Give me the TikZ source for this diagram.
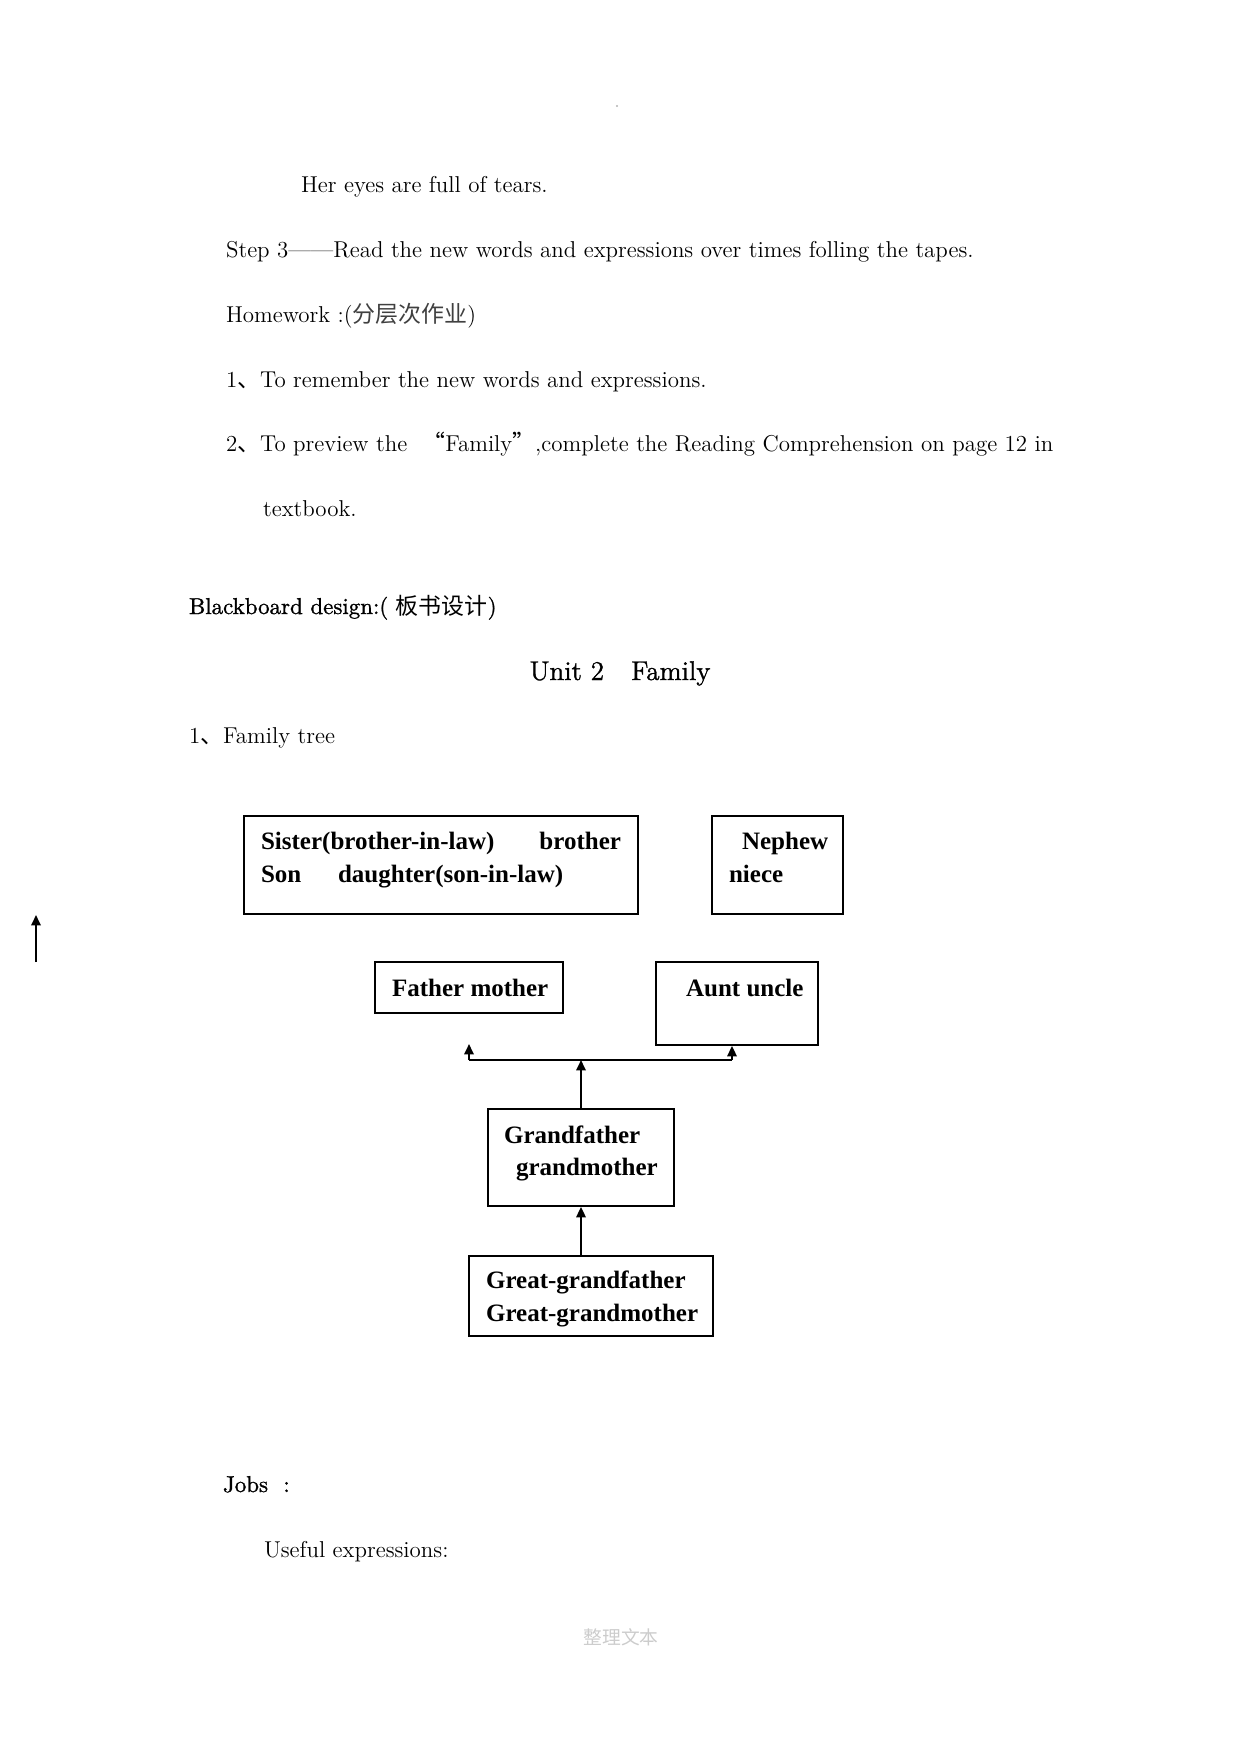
\documentclass[tikz,border=0pt]{standalone}
\usepackage{fontspec}
\newfontfamily\boxfont{Liberation Serif}
\newfontfamily\darkfont[FakeBold=1.2]{Latin Modern Roman}
\newfontfamily\cjk{Noto Sans CJK SC}
\usetikzlibrary{arrows.meta}

\begin{document}
\begin{tikzpicture}[x=0.4797pt,y=-0.4797pt,line width=1pt,>={Triangle[length=5pt,width=4.5pt]},
  body/.style={anchor=base west,inner sep=0pt,font=\fontsize{11}{13}\selectfont},
  famBox/.style={draw,line width=0.9pt,inner sep=0pt},
  boxtxt/.style={anchor=base west,inner sep=0pt,font=\boxfont\bfseries\fontsize{12}{14}\selectfont}]
  \useasboundingbox (0,0) rectangle (1241,1754);
  \fill[gray!60] (617,106) circle(0.5pt);
  % homework part
  \node[body] (tears) at (300,192) {Her eyes are full of tears.};
  \node[body] (step) at (225,257) {Step 3——Read the new words and expressions over times folling the tapes.};
  \node[body] (hw) at (225,322) {Homework :({\cjk\color{black!75}分层次作业})};
  \node[body] (hwOne) at (225,387) {1{\cjk 、}To remember the new words and expressions.};
  \node[body] (hwTwo) at (225,451) {2{\cjk 、}To preview the \ {\cjk “}Family{\cjk ”},complete the Reading Comprehension on page 12 in};
  \node[body] (tbook) at (262,516) {textbook.};
  % blackboard
  \node[body,font=\darkfont\fontsize{11}{13}\selectfont] (bb) at (188,614) {Blackboard design:( {\cjk 板书设计})};
  \node[anchor=base,inner sep=0pt,font=\darkfont\fontsize{13}{15}\selectfont] (unit) at (620,680) {Unit 2\quad Family};
  \node[body] (ftree) at (188,743) {1{\cjk 、}Family tree};
  % boxes
  \node[famBox,minimum width=189pt,minimum height=47pt] (sibBox) at (441,865) {};
  \node[famBox,minimum width=62.8pt,minimum height=47pt] (nepBox) at (777.5,865) {};
  \node[famBox,minimum width=90.2pt,minimum height=24.5pt] (fmBox) at (469,987.5) {};
  \node[famBox,minimum width=77.7pt,minimum height=39.8pt] (auBox) at (737,1003.5) {};
  \node[famBox,minimum width=89.2pt,minimum height=46.5pt] (gfBox) at (581,1157.5) {};
  \node[famBox,minimum width=117pt,minimum height=38.4pt] (ggBox) at (591,1296) {};
  \node[boxtxt] (sibA) at (260,849) {Sister(brother-in-law)};
  \node[boxtxt,anchor=base east] (sibB) at (622,849) {brother};
  \node[boxtxt] (sonA) at (260,882) {Son};
  \node[boxtxt] (sonB) at (337,882) {daughter(son-in-law)};
  \node[boxtxt] (nepA) at (741,849) {Nephew};
  \node[boxtxt] (nepB) at (728,882) {niece};
  \node[boxtxt] (fmTxt) at (391,996) {Father mother};
  \node[boxtxt] (auTxt) at (685,996) {Aunt uncle};
  \node[boxtxt] (gfA) at (503,1143) {Grandfather};
  \node[boxtxt] (gfB) at (515,1175) {grandmother};
  \node[boxtxt] (ggA) at (485,1288) {Great-grandfather};
  \node[boxtxt] (ggB) at (485,1321) {Great-grandmother};
  % connectors
  \coordinate (jn) at (581,1060);
  \coordinate (barL) at (469,1060);
  \coordinate (barR) at (732,1060);
  \coordinate (fmTip) at (469,1044);
  \draw (barL) -- (barR);
  \draw[->] (barL) -- (fmTip);
  \draw[->] (barR) -- (auBox.south -| barR);
  \draw[->] (gfBox.north) -- (jn);
  \draw[->] (gfBox.south |- ggBox.north) -- (gfBox.south);
  % stray arrow at the margin
  \coordinate (lnB) at (36,962);
  \coordinate (lnT) at (36,915);
  \draw[->] (lnB) -- (lnT);
  % rest of page
  \node[body,font=\darkfont\fontsize{11}{13}\selectfont] (jobs) at (222,1492) {Jobs\ \ :};
  \node[body] (useful) at (263,1557) {Useful expressions:};
  \node[anchor=base,inner sep=0pt,text=black!20,font=\cjk\fontsize{9}{11}\selectfont] (foot) at (621,1644) {整理文本};
\end{tikzpicture}
\end{document}
